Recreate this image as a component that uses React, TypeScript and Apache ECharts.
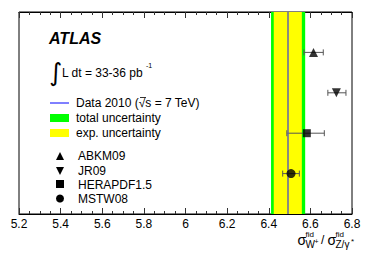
import React, { useEffect, useRef } from "react";
import * as echarts from "echarts";

// ---- data ----
const pdfNames = ["ABKM09", "JR09", "HERAPDF1.5", "MSTW08"];
const pdfValues = [6.615, 6.725, 6.583, 6.507];
const pdfErrLow = [6.569, 6.684, 6.487, 6.467];
const pdfErrHigh = [6.662, 6.771, 6.667, 6.547];
const pdfRows = [4, 3, 2, 1];
const pdfSymbols = ["triangle", "triangle", "rect", "circle"];
const pdfRotations = [0, 180, 0, 0];
const dataCentral = [6.492];
const totalUnc = [6.411, 6.575];
const expUnc = [6.424, 6.559];
const xTicks = { min: 5.2, max: 6.8, interval: 0.2 };

const FONT = "'Liberation Sans', Arial, Helvetica, sans-serif";

export default function App() {
  const ref = useRef<HTMLDivElement>(null);
  useEffect(() => {
    document.body.style.margin = "0";
    if (!ref.current) return;
    const chart = echarts.init(ref.current, undefined, { renderer: "svg" });

    const axisCommon = {
      type: "value" as const,
      min: xTicks.min,
      max: xTicks.max,
      interval: xTicks.interval,
      axisLine: { show: true, lineStyle: { color: "#000", width: 1 } },
      axisTick: { show: true, inside: true, length: 6, lineStyle: { color: "#333" } },
      minorTick: { show: true, splitNumber: 4, length: 3, lineStyle: { color: "#333" } },
      splitLine: { show: false },
    };

    const scatterSeries = pdfNames.map((name, i) => ({
      type: "scatter" as const,
      name,
      symbol: pdfSymbols[i],
      symbolRotate: pdfRotations[i],
      symbolSize: pdfSymbols[i] === "rect" ? 8 : 9,
      itemStyle: { color: "#000" },
      z: 5,
      data: [[pdfValues[i], pdfRows[i]]],
    }));

    const errData = pdfNames.map((_, i) => [pdfErrLow[i], pdfErrHigh[i], pdfRows[i]]);

    const leftX = 50;
    const markerX = 60;
    const txt = (x: number, y: number, text: string, extra: any = {}) => ({
      type: "text",
      x,
      y,
      style: {
        text,
        fill: "#000",
        font: `12px ${FONT}`,
        textVerticalAlign: "middle",
        ...extra,
      },
    });

    const graphics: any[] = [
      txt(49, 38, "ATLAS", { font: `italic bold 16px ${FONT}` }),
      txt(49, 72, "∫", { font: `25px 'DejaVu Sans', sans-serif` }),
      txt(62, 73, "L dt = 33-36 pb"),
      txt(146, 65, "-1", { font: `7px ${FONT}` }),
      { type: "line", shape: { x1: leftX, y1: 103, x2: leftX + 19, y2: 103 }, style: { stroke: "#0000ff", lineWidth: 1 } },
      txt(76, 103, "Data 2010 (√s = 7 TeV)"),
      { type: "line", shape: { x1: 140, y1: 97.5, x2: 146, y2: 97.5 }, style: { stroke: "#000", lineWidth: 0.8 } },
      { type: "rect", shape: { x: leftX, y: 114, width: 19, height: 8 }, style: { fill: "#00ff00" } },
      txt(76, 118, "total uncertainty"),
      { type: "rect", shape: { x: leftX, y: 129, width: 19, height: 8 }, style: { fill: "#ffff00" } },
      txt(76, 133, "exp. uncertainty"),
      { type: "polygon", shape: { points: [[markerX - 4, 160], [markerX + 4, 160], [markerX, 152]] }, style: { fill: "#000" } },
      { type: "polygon", shape: { points: [[markerX - 4, 167], [markerX + 4, 167], [markerX, 175]] }, style: { fill: "#000" } },
      { type: "rect", shape: { x: markerX - 4, y: 180, width: 8, height: 8 }, style: { fill: "#000" } },
      { type: "circle", shape: { cx: markerX, cy: 198.5, r: 4 }, style: { fill: "#000" } },
      txt(78, 156, pdfNames[0]),
      txt(78, 170.5, pdfNames[1]),
      txt(78, 184.5, pdfNames[2]),
      txt(78, 198.5, pdfNames[3]),
      // axis title
      txt(297.5, 240, "σ", { font: `14px ${FONT}` }),
      txt(305.5, 234, "fid", { font: `8px ${FONT}` }),
      txt(305.5, 244, "W", { font: `10px ${FONT}` }),
      txt(314.5, 241.5, "+", { font: `7px ${FONT}` }),
      txt(321, 240, "/", { font: `12px ${FONT}` }),
      txt(327.5, 240, "σ", { font: `14px ${FONT}` }),
      txt(335.5, 234, "fid", { font: `8px ${FONT}` }),
      txt(335.5, 244, "Z/γ", { font: `10px ${FONT}` }),
      txt(351, 241.5, "*", { font: `8px ${FONT}` }),
    ];

    chart.setOption({
      animation: false,
      grid: { left: 19, right: 22, top: 12, bottom: 43, show: true, borderColor: "#000", borderWidth: 1 },
      xAxis: [
        {
          ...axisCommon,
          position: "bottom",
          axisLabel: { show: true, color: "#000", fontSize: 12, fontFamily: FONT, margin: 4 },
        },
        { ...axisCommon, position: "top", axisLabel: { show: false } },
      ],
      yAxis: { type: "value", min: 0, max: 5, show: false },
      series: [
        {
          type: "line",
          data: [],
          markArea: {
            silent: true,
            data: [
              [
                { xAxis: totalUnc[0], itemStyle: { color: "#00ff00" } },
                { xAxis: totalUnc[1] },
              ],
              [
                { xAxis: expUnc[0], itemStyle: { color: "#ffff00" } },
                { xAxis: expUnc[1] },
              ],
            ],
          },
          markLine: {
            silent: true,
            symbol: "none",
            label: { show: false },
            lineStyle: { color: "#6464a8", width: 1.5, type: "solid" },
            data: [{ xAxis: dataCentral[0] }],
          },
        },
        {
          type: "custom",
          z: 4,
          data: errData,
          renderItem: (_params: any, api: any) => {
            const lo = api.coord([api.value(0), api.value(2)]);
            const hi = api.coord([api.value(1), api.value(2)]);
            const st = { stroke: "#555", lineWidth: 1 };
            return {
              type: "group",
              children: [
                { type: "line", shape: { x1: lo[0], y1: lo[1], x2: hi[0], y2: hi[1] }, style: st },
                { type: "line", shape: { x1: lo[0], y1: lo[1] - 3, x2: lo[0], y2: lo[1] + 3 }, style: st },
                { type: "line", shape: { x1: hi[0], y1: hi[1] - 3, x2: hi[0], y2: hi[1] + 3 }, style: st },
              ],
            };
          },
        },
        ...scatterSeries,
      ],
      graphic: graphics,
    });
    return () => chart.dispose();
  }, []);
  return <div ref={ref} style={{ width: 374, height: 257 }} />;
}
